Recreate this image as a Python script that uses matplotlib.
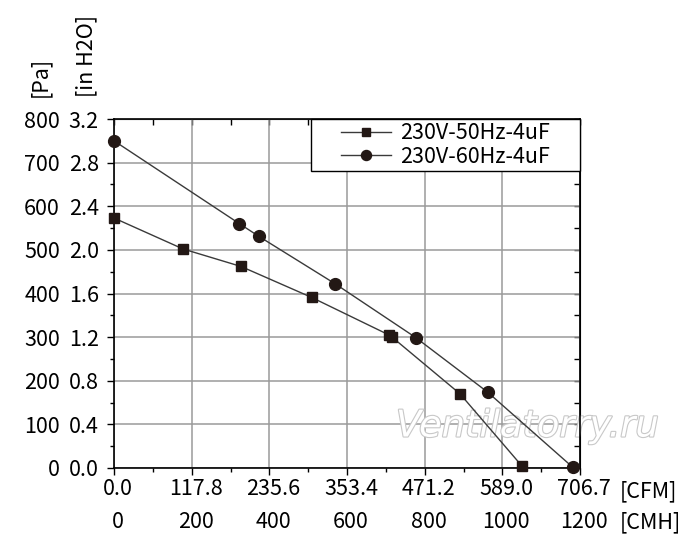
import matplotlib
matplotlib.use('Agg')
import matplotlib.pyplot as plt
import matplotlib.transforms as mtransforms
import matplotlib.patheffects as pe
from matplotlib.patches import Rectangle
from matplotlib.ticker import MultipleLocator, FixedLocator, FixedFormatter, NullFormatter

plt.rcParams['font.family'] = ['Noto Sans CJK JP', 'DejaVu Sans']

# ---- data ----
cmh_ticks = [0, 200, 400, 600, 800, 1000, 1200]
cmh_labels = ['0', '200', '400', '600', '800', '1000', '1200']
cfm_labels = ['0.0', '117.8', '235.6', '353.4', '471.2', '589.0', '706.7']
pa_ticks = [0, 100, 200, 300, 400, 500, 600, 700, 800]
pa_labels = ['0', '100', '200', '300', '400', '500', '600', '700', '800']
inh2o_labels = ['0.0', '0.4', '0.8', '1.2', '1.6', '2.0', '2.4', '2.8', '3.2']

series_names = ['230V-50Hz-4uF', '230V-60Hz-4uF']
flow_50 = [0, 178, 327, 509, 708, 716, 891, 1051]
pres_50 = [573, 502, 462, 391, 305, 300, 170, 4]
flow_60 = [0, 323, 373, 570, 777, 962, 1181]
pres_60 = [750, 560, 531, 422, 299, 174, 2]

FS = 15.5
mark_col = '#231815'
line_col = '#3a3a3a'

fig = plt.figure(figsize=(7, 5.56), dpi=100)
W, H = 700, 556
L, R, T, B = 114, 580, 119, 468
ax = fig.add_axes([L / W, 1 - B / H, (R - L) / W, (B - T) / H])

ax.plot(flow_50, pres_50, color=line_col, lw=1.0, marker='s', ms=7,
        mfc=mark_col, mec=mark_col, label=series_names[0], zorder=3, clip_on=False)
ax.plot(flow_60, pres_60, color=line_col, lw=1.0, marker='o', ms=8.5,
        mfc=mark_col, mec=mark_col, label=series_names[1], zorder=3, clip_on=False)

ax.set_xlim(0, 1200)
ax.set_ylim(0, 800)
ax.set_axisbelow(True)
ax.grid(True, which='major', color='#9a9a9a', lw=1.1)

for s in ax.spines.values():
    s.set_color('black')
    s.set_linewidth(1.2)

# main x: CMH positions, CFM labels (first row)
ax.xaxis.set_major_locator(FixedLocator(cmh_ticks))
ax.xaxis.set_major_formatter(FixedFormatter(cfm_labels))
ax.xaxis.set_minor_locator(MultipleLocator(100))
ax.yaxis.set_major_locator(FixedLocator(pa_ticks))
ax.yaxis.set_major_formatter(FixedFormatter(inh2o_labels))
ax.yaxis.set_minor_locator(MultipleLocator(50))
ax.tick_params(axis='both', which='major', direction='out', length=5, width=1.0,
               labelsize=FS, colors='black')
ax.tick_params(axis='both', which='minor', direction='out', length=3, width=1.0)
ax.tick_params(axis='x', which='major', pad=2)
ax.tick_params(axis='y', which='major', pad=6)

# second row of x labels: CMH
sec_x = ax.secondary_xaxis('bottom')
sec_x.xaxis.set_major_locator(FixedLocator(cmh_ticks))
sec_x.xaxis.set_major_formatter(FixedFormatter(cmh_labels))
sec_x.tick_params(axis='x', length=0, labelsize=FS, pad=31)
sec_x.spines['bottom'].set_visible(False)

# Pa column on the left
sec_y = ax.secondary_yaxis('left')
sec_y.yaxis.set_major_locator(FixedLocator(pa_ticks))
sec_y.yaxis.set_major_formatter(FixedFormatter(pa_labels))
sec_y.tick_params(axis='y', length=0, labelsize=FS, pad=39)
sec_y.spines['left'].set_visible(False)

# inward ticks on top and right
top_x = ax.secondary_xaxis('top')
top_x.xaxis.set_major_locator(FixedLocator(cmh_ticks))
top_x.xaxis.set_minor_locator(MultipleLocator(100))
top_x.xaxis.set_major_formatter(NullFormatter())
top_x.tick_params(axis='x', which='both', direction='in', length=4, width=1.0)
right_y = ax.secondary_yaxis('right')
right_y.yaxis.set_major_locator(FixedLocator(pa_ticks))
right_y.yaxis.set_minor_locator(MultipleLocator(50))
right_y.yaxis.set_major_formatter(NullFormatter())
right_y.tick_params(axis='y', which='both', direction='in', length=4, width=1.0)

# units
fig.text(620 / W, 1 - 491 / H, '[CFM]', fontsize=FS, ha='left', va='center')
fig.text(620 / W, 1 - 522 / H, '[CMH]', fontsize=FS, ha='left', va='center')
fig.text(40 / W, 1 - 97 / H, '[Pa]', fontsize=FS, rotation=90, ha='center', va='bottom')
fig.text(86 / W, 1 - 97 / H, '[in H2O]', fontsize=FS, rotation=90, ha='center', va='bottom')

# watermark
ax.text(396 / W, 1 - 426 / H, 'Ventilatorry.ru', transform=fig.transFigure,
        fontsize=26.5, fontstyle='italic', family='DejaVu Sans', color='white',
        ha='left', va='center', zorder=1.5, clip_on=False,
        path_effects=[pe.withStroke(linewidth=1.6, foreground='#c8c8c8')])

# legend box
lx0, ly0, lx1, ly1 = 311, 119, 580, 171
ax.add_patch(Rectangle(((lx0 - L) / (R - L), (B - ly1) / (B - T)),
                       (lx1 - lx0) / (R - L), (ly1 - ly0) / (B - T),
                       transform=ax.transAxes, facecolor='white', edgecolor='black',
                       lw=1.0, zorder=4, clip_on=False))
leg = ax.legend(loc='center',
                bbox_to_anchor=(((lx0 + lx1) / 2 - L) / (R - L), (B - (ly0 + ly1) / 2) / (B - T)),
                frameon=False, fontsize=FS, handlelength=2.3, handletextpad=0.45,
                labelspacing=0.05, borderpad=0.0, markerscale=0.85)
leg.set_zorder(5)

fig.canvas.draw()
off = mtransforms.ScaledTranslation(4 / 100, 0, fig.dpi_scale_trans)
for lab in ax.get_xticklabels() + sec_x.get_xticklabels():
    lab.set_transform(lab.get_transform() + off)

fig.savefig('out.png', dpi=100)
